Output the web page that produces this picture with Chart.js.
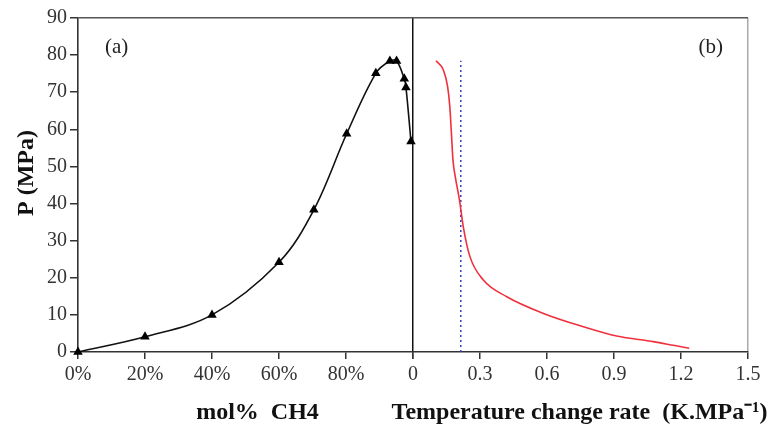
<!DOCTYPE html>
<html>
<head>
<meta charset="utf-8">
<script src="https://cdn.jsdelivr.net/npm/chart.js@4"></script>
<style>
  html, body { margin: 0; padding: 0; background: #fff; }
</style>
</head>
<body>
<canvas id="pChart" width="775" height="427"></canvas>
<script>
// (a) hydrate curve vs methane content
const molPct = [0, 20, 40, 60, 70.4, 80.2, 88.9, 93.1, 95.1, 97.4, 97.9, 99.4];
const pressureA = [0, 4.1, 10.0, 24.2, 38.3, 58.8, 75.1, 78.4, 78.4, 73.6, 71.3, 56.7];

// (b) temperature change rate vs pressure
const tempRate = [0.103, 0.136, 0.155, 0.165, 0.172, 0.179, 0.19, 0.208, 0.225, 0.255, 0.315, 0.42, 0.584, 0.763, 0.912, 1.076, 1.166, 1.237];
const pressureB = [78.5, 76.0, 71.5, 66.0, 58.9, 51.7, 47.0, 41.0, 33.8, 25.7, 19.4, 14.9, 10.4, 6.8, 4.3, 2.8, 1.8, 1.0];

// dotted reference line
const refRate = [0.214, 0.214];
const refP = [0, 78.5];

const leftTicks = [0, 20, 40, 60, 80, 100];
const rightTicks = [0, 0.3, 0.6, 0.9, 1.2, 1.5];

const rateTitle = 'Temperature change rate  (K.MPa\u207B\u00B9)';

const serif = "'Liberation Serif', 'Times New Roman', serif";
const nb = '\u00A0';

// panel tags + the right axis title (too wide for chart.js's maxWidth)
const panelLabels = {
    id: 'panelLabels',
    afterDraw(chart) {
        const {ctx, chartArea} = chart;
        const x2 = chart.scales.x2;
        ctx.save();
        ctx.font = '21px ' + serif;
        ctx.fillStyle = '#222';
        ctx.textBaseline = 'middle';
        ctx.textAlign = 'left';
        ctx.fillText('(a)', chartArea.left + 27, 47);
        ctx.textAlign = 'right';
        ctx.fillText('(b)', chartArea.right - 25, 47);
        ctx.font = 'bold 24px ' + serif;
        ctx.fillStyle = '#111';
        ctx.textAlign = 'center';
        ctx.fillText(rateTitle, (x2.left + x2.right) / 2 - 1, x2.bottom - 14);
        ctx.restore();
    }
};

new Chart(document.getElementById('pChart'), {
    type: 'line',
    data: {
        datasets: [{
            data: molPct.map((v, i) => ({x: v, y: pressureA[i]})),
            xAxisID: 'x1',
            borderColor: '#111',
            borderWidth: 1.6,
            backgroundColor: '#000',
            pointStyle: 'triangle',
            pointRadius: 5.5,
            pointBorderWidth: 0,
            tension: 0.35,
            clip: false
        }, {
            data: tempRate.map((v, i) => ({x: v, y: pressureB[i]})),
            xAxisID: 'x2',
            borderColor: '#f0303c',
            borderWidth: 1.6,
            pointRadius: 0,
            cubicInterpolationMode: 'monotone'
        }, {
            data: refRate.map((v, i) => ({x: v, y: refP[i]})),
            xAxisID: 'x2',
            borderColor: '#3040c0',
            borderWidth: 1.5,
            borderDash: [2, 3],
            pointRadius: 0
        }]
    },
    options: {
        responsive: false,
        animation: false,
        layout: { padding: { top: 18, right: 27, bottom: 0, left: 0 } },
        plugins: { legend: { display: false }, tooltip: { enabled: false } },
        scales: {
            x1: {
                type: 'linear', position: 'bottom', stack: 'xs', stackWeight: 1,
                min: 0, max: 100,
                afterFit: s => { s.height = 75; },
                afterBuildTicks: s => { s.ticks = leftTicks.map(v => ({value: v})); },
                border: { color: '#333', width: 1.6 },
                grid: {
                    color: c => c.tick && c.tick.value === 100 ? '#111' : 'rgba(0,0,0,0)',
                    tickColor: '#333', tickLength: 7, lineWidth: 1.5
                },
                ticks: {
                    font: { family: serif, size: 20 }, color: '#333',
                    maxRotation: 0, autoSkip: false, padding: 4,
                    callback: v => v === 100 ? '' : v + '%'
                },
                title: {
                    display: true, text: nb.repeat(4) + 'mol%  CH4', color: '#111',
                    font: { family: serif, size: 24, weight: 'bold' },
                    padding: { top: 0, bottom: 0 }
                }
            },
            x2: {
                type: 'linear', position: 'bottom', stack: 'xs', stackWeight: 1,
                min: 0, max: 1.5,
                afterFit: s => { s.height = 75; },
                afterBuildTicks: s => { s.ticks = rightTicks.map(v => ({value: v})); },
                border: { color: '#333', width: 1.6 },
                grid: {
                    color: c => c.tick && c.tick.value === 1.5 ? '#aaa' : 'rgba(0,0,0,0)',
                    tickColor: '#333', tickLength: 7, lineWidth: 1.5
                },
                ticks: {
                    font: { family: serif, size: 20 }, color: '#333',
                    maxRotation: 0, autoSkip: false, padding: 4,
                    callback: v => v === 0 ? '0' : v.toFixed(1)
                },
                title: { display: false }
            },
            y: {
                type: 'linear', position: 'left',
                min: 0, max: 90,
                afterFit: s => { s.width = 78; },
                border: { color: '#333', width: 1.6 },
                grid: {
                    color: c => c.tick && c.tick.value === 90 ? '#555' : 'rgba(0,0,0,0)',
                    tickColor: '#333', tickLength: 8, lineWidth: 1.5
                },
                ticks: {
                    stepSize: 10,
                    font: { family: serif, size: 20 }, color: '#333', padding: 3
                },
                title: {
                    display: true, text: nb.repeat(4) + 'P (MPa)', color: '#111',
                    font: { family: serif, size: 24, weight: 'bold' },
                    padding: { top: 12, bottom: 0 }
                }
            }
        }
    },
    plugins: [panelLabels]
});
</script>
</body>
</html>
